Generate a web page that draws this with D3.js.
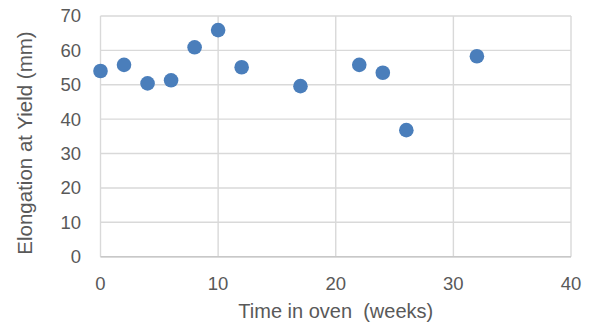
<!DOCTYPE html>
<html>
<head>
<meta charset="utf-8">
<script src="https://cdn.jsdelivr.net/npm/d3@7"></script>
<style>
  html, body { margin: 0; padding: 0; background: #fff; }
  text { font-family: "Liberation Sans", Arial, sans-serif; fill: #595959; white-space: pre; }
</style>
</head>
<body>
<svg id="chart" width="592" height="326"></svg>
<script>
const weeks = [0, 2, 4, 6, 8, 10, 12, 17, 22, 24, 26, 32];
const elongation = [54, 55.8, 50.4, 51.3, 60.9, 65.9, 55.1, 49.6, 55.8, 53.5, 36.8, 58.3];
const xTicks = [0, 10, 20, 30, 40];
const yTicks = [0, 10, 20, 30, 40, 50, 60, 70];
const xTitle = "Time in oven  (weeks)";
const yTitle = "Elongation at Yield (mm)";

const svg = d3.select("#chart");
const pL = 100.5, pR = 571, pT = 16, pB = 256.7;

const x = d3.scaleLinear().domain([0, 40]).range([pL, pR]);
const y = d3.scaleLinear().domain([0, 70]).range([pB, pT]);

// gridlines
svg.append("g").selectAll("line").data(yTicks).join("line")
  .attr("x1", pL).attr("x2", pR)
  .attr("y1", d => y(d)).attr("y2", d => y(d))
  .attr("stroke", "#d9d9d9").attr("stroke-width", 1.4);
svg.append("g").selectAll("line").data(xTicks).join("line")
  .attr("y1", pT).attr("y2", pB)
  .attr("x1", d => x(d)).attr("x2", d => x(d))
  .attr("stroke", "#d9d9d9").attr("stroke-width", 1.4);

// bottom axis line
svg.append("line").attr("x1", pL).attr("x2", pR)
  .attr("y1", y(0)).attr("y2", y(0))
  .attr("stroke", "#c8c8c8").attr("stroke-width", 1.4);

// tick labels
svg.append("g").selectAll("text").data(yTicks).join("text")
  .attr("x", 81).attr("y", d => y(d)).attr("dy", "0.35em")
  .attr("text-anchor", "end").attr("font-size", 18.5)
  .text(d => d);
svg.append("g").selectAll("text").data(xTicks).join("text")
  .attr("x", d => x(d)).attr("y", 290)
  .attr("text-anchor", "middle").attr("font-size", 18.5)
  .text(d => d);

// titles
svg.append("text").attr("x", (pL + pR) / 2).attr("y", 318)
  .attr("text-anchor", "middle").attr("font-size", 20)
  .attr("xml:space", "preserve")
  .text(xTitle);
svg.append("text")
  .attr("transform", `translate(32,143) rotate(-90)`)
  .attr("text-anchor", "middle").attr("font-size", 20.5)
  .text(yTitle);

// points
svg.append("g").selectAll("circle").data(weeks.map((w, i) => [w, elongation[i]])).join("circle")
  .attr("cx", d => x(d[0])).attr("cy", d => y(d[1]))
  .attr("r", 7.3).attr("fill", "#4a7ebb");
</script>
</body>
</html>
